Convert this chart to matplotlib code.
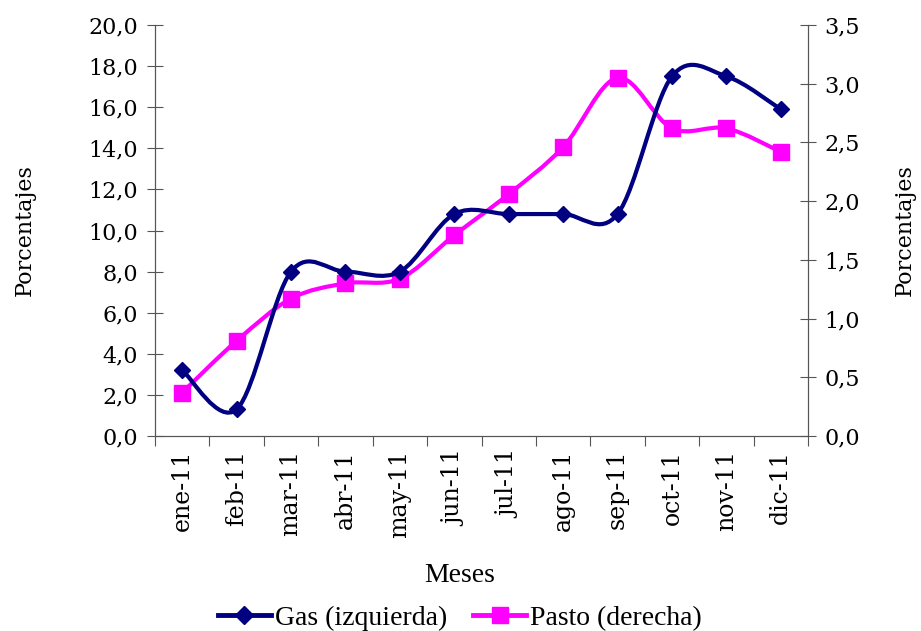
import matplotlib
matplotlib.use("Agg")
import matplotlib.pyplot as plt
from matplotlib.path import Path
from matplotlib.patches import PathPatch
from matplotlib.lines import Line2D
from matplotlib.ticker import FuncFormatter, MultipleLocator

plt.rcParams["font.family"] = ["DejaVu Serif", "Liberation Serif"]

meses = ["ene-11", "feb-11", "mar-11", "abr-11", "may-11", "jun-11",
         "jul-11", "ago-11", "sep-11", "oct-11", "nov-11", "dic-11"]
gas = [3.2, 1.3, 8.0, 8.0, 8.0, 10.8, 10.8, 10.8, 10.8, 17.5, 17.5, 15.9]
pasto = [0.37, 0.81, 1.17, 1.30, 1.34, 1.71, 2.06, 2.46, 3.05, 2.62, 2.62, 2.42]

NAVY = "#000080"
MAGENTA = "#FF00FF"
TEXTFONT = "Liberation Serif"


def smooth_path(xs, ys):
    # curva suavizada tipo Excel (Catmull-Rom como Bezier)
    pts = list(zip(xs, ys))
    verts = [pts[0]]
    codes = [Path.MOVETO]
    n = len(pts)
    for i in range(n - 1):
        p0 = pts[i - 1] if i > 0 else pts[i]
        p1 = pts[i]
        p2 = pts[i + 1]
        p3 = pts[i + 2] if i + 2 < n else pts[i + 1]
        c1 = (p1[0] + (p2[0] - p0[0]) / 6, p1[1] + (p2[1] - p0[1]) / 6)
        c2 = (p2[0] - (p3[0] - p1[0]) / 6, p2[1] - (p3[1] - p1[1]) / 6)
        verts += [c1, c2, p2]
        codes += [Path.CURVE4] * 3
    return Path(verts, codes)


fig = plt.figure(figsize=(9.21, 6.31), dpi=100)
ax1 = fig.add_axes([155 / 921, 1 - 436 / 631, 653 / 921, 411 / 631])
ax2 = ax1.twinx()
ax1.set_zorder(ax2.get_zorder() + 1)
ax1.patch.set_visible(False)

x = list(range(len(meses)))

ax2.add_patch(PathPatch(smooth_path(x, pasto), facecolor="none",
                        edgecolor=MAGENTA, lw=3, capstyle="round", joinstyle="round"))
ax2.plot(x, pasto, ls="none", marker="s", ms=11, color=MAGENTA)

ax1.add_patch(PathPatch(smooth_path(x, gas), facecolor="none",
                        edgecolor=NAVY, lw=3, capstyle="round", joinstyle="round"))
ax1.plot(x, gas, ls="none", marker="D", ms=8, color=NAVY)

ax1.set_xlim(-0.5, len(meses) - 0.5)
ax1.set_ylim(0, 20)
ax2.set_ylim(0, 3.5)

coma = FuncFormatter(lambda v, p: f"{v:.1f}".replace(".", ","))
ax1.yaxis.set_major_locator(MultipleLocator(2))
ax2.yaxis.set_major_locator(MultipleLocator(0.5))
ax1.yaxis.set_major_formatter(coma)
ax2.yaxis.set_major_formatter(coma)

ax1.set_xticks([i - 0.5 for i in range(len(meses) + 1)])
ax1.set_xticklabels([])
ax1.set_xticks(x, minor=True)
ax1.set_xticklabels(meses, minor=True, rotation=90, fontsize=17)
ax1.tick_params(axis="x", which="major", direction="out", length=7, color="#555555")
ax1.tick_params(axis="x", which="minor", length=0, pad=10)

for ax in (ax1, ax2):
    ax.spines["top"].set_visible(False)
    for s in ax.spines.values():
        s.set_color("#555555")
    ax.tick_params(axis="y", direction="inout", length=12, color="#555555",
                   labelsize=16, pad=6)

ax1.set_ylabel("Porcentajes", fontsize=16, labelpad=38)
ax2.set_ylabel("Porcentajes", fontsize=16, labelpad=24)
fig.text(460 / 921, 1 - 575 / 631, "Meses", ha="center", va="center",
         fontsize=20, family=TEXTFONT)

handles = [Line2D([], [], color=NAVY, lw=3.5, marker="D", ms=9),
           Line2D([], [], color=MAGENTA, lw=3.5, marker="s", ms=12)]
fig.legend(handles, ["Gas (izquierda)", "Pasto (derecha)"], loc="center",
           bbox_to_anchor=(460 / 921, 1 - 618 / 631), ncol=2,
           frameon=False, prop={"family": TEXTFONT, "size": 20},
           handlelength=1.9, handletextpad=0.15, columnspacing=0.95)

fig.savefig("out.png", dpi=100)
